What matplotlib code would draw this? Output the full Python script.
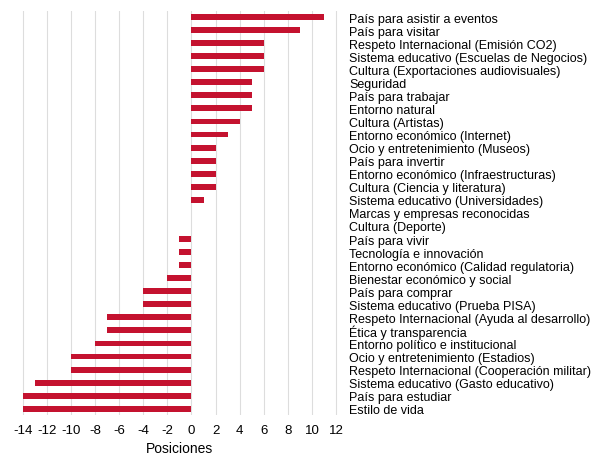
import matplotlib
matplotlib.use('Agg')
import matplotlib.pyplot as plt

labels = [
    'País para asistir a eventos', 'País para visitar', 'Respeto Internacional (Emisión CO2)',
    'Sistema educativo (Escuelas de Negocios)', 'Cultura (Exportaciones audiovisuales)', 'Seguridad',
    'País para trabajar', 'Entorno natural', 'Cultura (Artistas)', 'Entorno económico (Internet)',
    'Ocio y entretenimiento (Museos)', 'País para invertir', 'Entorno económico (Infraestructuras)',
    'Cultura (Ciencia y literatura)', 'Sistema educativo (Universidades)', 'Marcas y empresas reconocidas',
    'Cultura (Deporte)', 'País para vivir', 'Tecnología e innovación',
    'Entorno económico (Calidad regulatoria)', 'Bienestar económico y social', 'País para comprar',
    'Sistema educativo (Prueba PISA)', 'Respeto Internacional (Ayuda al desarrollo)',
    'Ética y transparencia', 'Entorno político e institucional', 'Ocio y entretenimiento (Estadios)',
    'Respeto Internacional (Cooperación militar)', 'Sistema educativo (Gasto educativo)',
    'País para estudiar', 'Estilo de vida',
]
values = [11, 9, 6, 6, 6, 5, 5, 5, 4, 3, 2, 2, 2, 2, 1, 0, 0,
          -1, -1, -1, -2, -4, -4, -7, -7, -8, -10, -10, -13, -14, -14]
xticks = list(range(-14, 13, 2))

plt.rcParams['font.family'] = ['Liberation Sans', 'DejaVu Sans']
fig = plt.figure(figsize=(5.93, 4.6), dpi=100)
ax = fig.add_axes([0.035, 0.095, 0.535, 0.88])
y = list(range(len(labels)))
ax.barh(y, values, height=0.45, color='#c4122f', zorder=2)
ax.set_ylim(len(labels) - 0.5, -0.5)
ax.set_xlim(-14.15, 12.15)
ax.set_xticks(xticks)
ax.set_xticklabels([str(t) for t in xticks], fontsize=9.5)
ax.set_yticks(y)
ax.set_yticklabels(labels, fontsize=9)
ax.yaxis.tick_right()
ax.tick_params(axis='y', length=0, pad=8)
ax.tick_params(axis='x', length=0, pad=6)
ax.grid(axis='x', color='#dddddd', linewidth=0.8, zorder=0)
for s in ax.spines.values():
    s.set_visible(False)
ax.set_xlabel('Posiciones', fontsize=10, labelpad=4)
fig.savefig('out.png', dpi=100)
